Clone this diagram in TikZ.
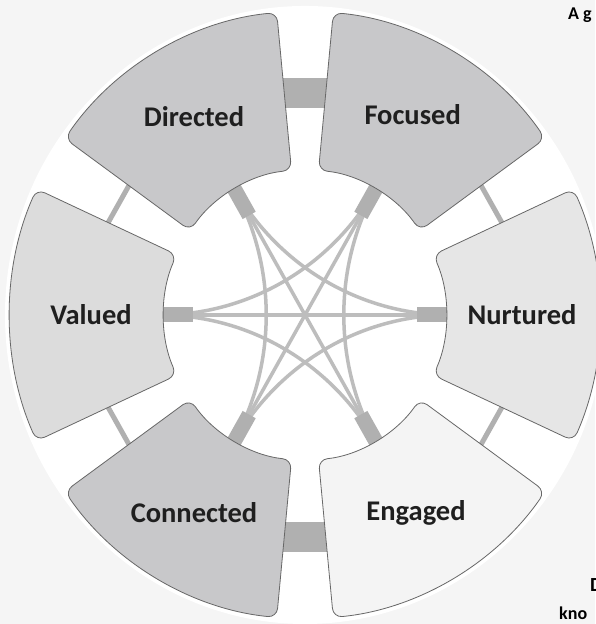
\documentclass[tikz,border=0pt]{standalone}
\usepackage{fontspec}
\setmainfont{Carlito}
\usetikzlibrary{calc}
\definecolor{blockdark}{HTML}{C8C8CA}
\definecolor{blockmid}{HTML}{DCDCDC}
\definecolor{blocklight}{HTML}{E6E6E6}
\definecolor{blockpale}{HTML}{F4F4F4}
\definecolor{blockedge}{HTML}{676767}
\definecolor{linkgrey}{HTML}{B0B0B0}
\definecolor{fangrey}{HTML}{BDBDBD}

\newcommand{\ringblock}[2]{%
  \draw[block,fill=#2] ({#1-24.5}:295) arc[start angle={#1-24.5},end angle={#1+24.5},radius=295]
    -- ({#1+24.5}:141) arc[start angle={#1+24.5},end angle={#1-24.5},radius=141] -- cycle;}

\begin{document}
\begin{tikzpicture}[x=1pt,y=1.03pt,
    block/.style={draw=blockedge,line width=0.8pt,rounded corners=9pt},
    lbl/.style={font=\fontsize{28.5}{30}\selectfont\bfseries,text=black!88},
    rim/.style={draw=linkgrey,line width=5pt},
    band/.style={draw=linkgrey,line width=30pt},
    fan/.style={draw=fangrey,line width=3.5pt},
    stub/.style={draw=linkgrey,line width=15pt},
    frag/.style={font=\fontsize{18}{20}\selectfont\bfseries,anchor=base west,inner sep=0pt}]
  \useasboundingbox (-305,-300) rectangle (290,305.8);
  \fill[gray!8] (-305,-300) rectangle (290,305.8);
  \fill[white] (0,0) circle[radius=300];
  \coordinate (o) at (0,0);

  \coordinate (focused-cw) at (21:218);
  \coordinate (focused-ccw) at (81:218);
  \coordinate (directed-cw) at (99:218);
  \coordinate (directed-ccw) at (141:218);
  \coordinate (valued-cw) at (159:218);
  \coordinate (valued-ccw) at (201:218);
  \coordinate (connected-cw) at (219:218);
  \coordinate (connected-ccw) at (261:218);
  \coordinate (engaged-cw) at (279:218);
  \coordinate (engaged-ccw) at (321:218);
  \coordinate (nurtured-cw) at (339:218);
  \coordinate (nurtured-ccw) at (39:218);

  \draw[band] (focused-ccw) -- (directed-cw);
  \draw[band] (connected-ccw) -- (engaged-cw);
  \draw[rim] (directed-ccw) -- (valued-cw);
  \draw[rim] (valued-ccw) -- (connected-cw);
  \draw[rim] (engaged-ccw) -- (nurtured-cw);
  \draw[rim] (nurtured-ccw) -- (focused-cw);

  \coordinate (nurtured-in) at (0:145);
  \coordinate (focused-in) at (60:145);
  \coordinate (directed-in) at (120:145);
  \coordinate (valued-in) at (180:145);
  \coordinate (connected-in) at (240:145);
  \coordinate (engaged-in) at (300:145);

  \draw[fan] (valued-in) -- (nurtured-in);
  \draw[fan] (directed-in) -- (engaged-in);
  \draw[fan] (focused-in) -- (connected-in);
  \draw[fan] (valued-in) .. controls ($(o)!.38!(valued-in)$) and ($(o)!.38!(focused-in)$) .. (focused-in);
  \draw[fan] (focused-in) .. controls ($(o)!.38!(focused-in)$) and ($(o)!.38!(engaged-in)$) .. (engaged-in);
  \draw[fan] (engaged-in) .. controls ($(o)!.38!(engaged-in)$) and ($(o)!.38!(valued-in)$) .. (valued-in);
  \draw[fan] (directed-in) .. controls ($(o)!.38!(directed-in)$) and ($(o)!.38!(nurtured-in)$) .. (nurtured-in);
  \draw[fan] (nurtured-in) .. controls ($(o)!.38!(nurtured-in)$) and ($(o)!.38!(connected-in)$) .. (connected-in);
  \draw[fan] (connected-in) .. controls ($(o)!.38!(connected-in)$) and ($(o)!.38!(directed-in)$) .. (directed-in);

  \draw[stub] (nurtured-in) -- ($(o)!.77!(nurtured-in)$);
  \draw[stub] (focused-in) -- ($(o)!.77!(focused-in)$);
  \draw[stub] (directed-in) -- ($(o)!.77!(directed-in)$);
  \draw[stub] (valued-in) -- ($(o)!.77!(valued-in)$);
  \draw[stub] (connected-in) -- ($(o)!.77!(connected-in)$);
  \draw[stub] (engaged-in) -- ($(o)!.77!(engaged-in)$);

  \ringblock{0}{blocklight}
  \ringblock{60}{blockdark}
  \ringblock{120}{blockdark}
  \ringblock{180}{blockmid}
  \ringblock{240}{blockdark}
  \ringblock{300}{blockpale}

  \node[lbl] (nurtured) at (0:217) {Nurtured};
  \node[lbl] (focused) at (61:222) {Focused};
  \node[lbl] (directed) at (120:222) {Directed};
  \node[lbl] (valued) at (180:214) {Valued};
  \node[lbl] (connected) at (240:222) {Connected};
  \node[lbl] (engaged) at (300:222) {Engaged};

  \node[frag] (ag) at (263,286.4) {A g};
  \node[frag,font=\fontsize{20}{22}\selectfont\bfseries] (d) at (285,-268) {D};
  \node[frag] (kno) at (254,-296) {kno};
\end{tikzpicture}
\end{document}
